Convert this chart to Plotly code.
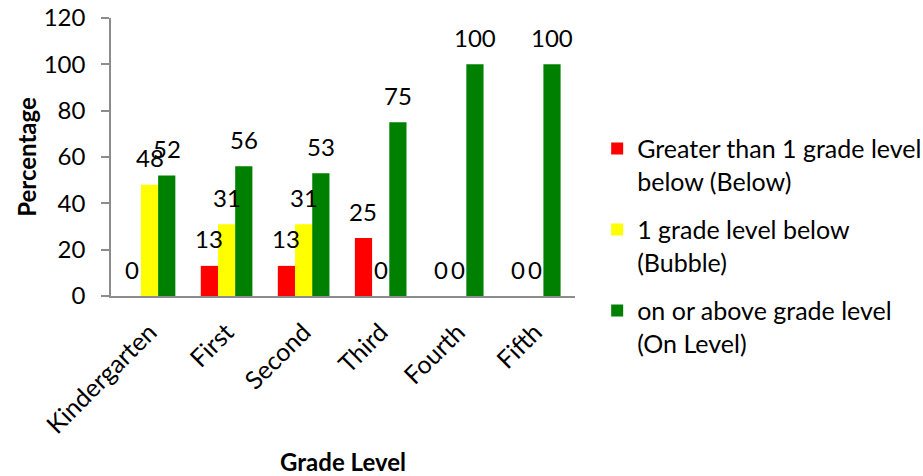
import plotly.graph_objects as go

# Share of students per reading band, by grade
grades = ["Kindergarten", "First", "Second", "Third", "Fourth", "Fifth"]
below = [0, 13, 13, 25, 0, 0]
bubble = [48, 31, 31, 0, 0, 0]
on_level = [52, 56, 53, 75, 100, 100]

series_names = [
    "Greater than 1 grade level<br>below (Below)",
    "1 grade level below<br>(Bubble)",
    "on or above grade level<br>(On Level)",
]
series_values = [below, bubble, on_level]
series_colors = ["#FF0000", "#FFFF00", "#008000"]

FONT = "Lato"
FS = 24
AXIS_GRAY = "#8C8C8C"
BARGAP = 0.33

fig = go.Figure()
for name, vals, color in zip(series_names, series_values, series_colors):
    fig.add_trace(go.Bar(
        x=grades, y=vals, name=name, legendgroup=name,
        marker=dict(color=color, line=dict(width=0)),
    ))

# Value labels centred over each bar, offset per series inside the group
bar_w = (1 - BARGAP) / len(series_values)
annotations = []
for k, vals in enumerate(series_values):
    offset = (k - (len(series_values) - 1) / 2) * bar_w
    for i, v in enumerate(vals):
        annotations.append(dict(
            x=i + offset, y=v, xref="x", yref="y", text=str(v),
            showarrow=False, yanchor="middle", yshift=27,
            font=dict(family=FONT, size=FS, color="#000000"),
        ))

fig.update_layout(
    width=923, height=476,
    margin=dict(l=111, r=348, t=18, b=180, autoexpand=False),
    paper_bgcolor="white", plot_bgcolor="white",
    barmode="group", bargap=BARGAP, bargroupgap=0,
    font=dict(family=FONT, size=FS, color="#000000"),
    annotations=annotations,
    legend=dict(
        x=0.647, xref="container", xanchor="left",
        y=0.736, yref="container", yanchor="top",
        valign="top", tracegroupgap=13, maxheight=1,
        font=dict(family=FONT, size=25, color="#000000"),
    ),
    xaxis=dict(
        title=dict(text="<b>Grade Level</b>", font=dict(family=FONT, size=24), standoff=20),
        tickangle=-45, showline=True, linecolor=AXIS_GRAY, linewidth=1.5,
        ticks="", showgrid=False, zeroline=False, automargin=False,
        ticklabelstandoff=10,
        tickfont=dict(family=FONT, size=25),
    ),
    yaxis=dict(
        title=dict(text="<b>Percentage</b>", font=dict(family=FONT, size=24), standoff=0),
        range=[0, 120], tick0=0, dtick=20,
        showline=True, linecolor=AXIS_GRAY, linewidth=1.5,
        ticks="outside", ticklen=8, tickcolor=AXIS_GRAY, tickwidth=1.5,
        showgrid=False, zeroline=False, automargin=False,
        ticklabelstandoff=11,
        tickfont=dict(family=FONT, size=FS),
    ),
)

fig.write_html("out.html")
